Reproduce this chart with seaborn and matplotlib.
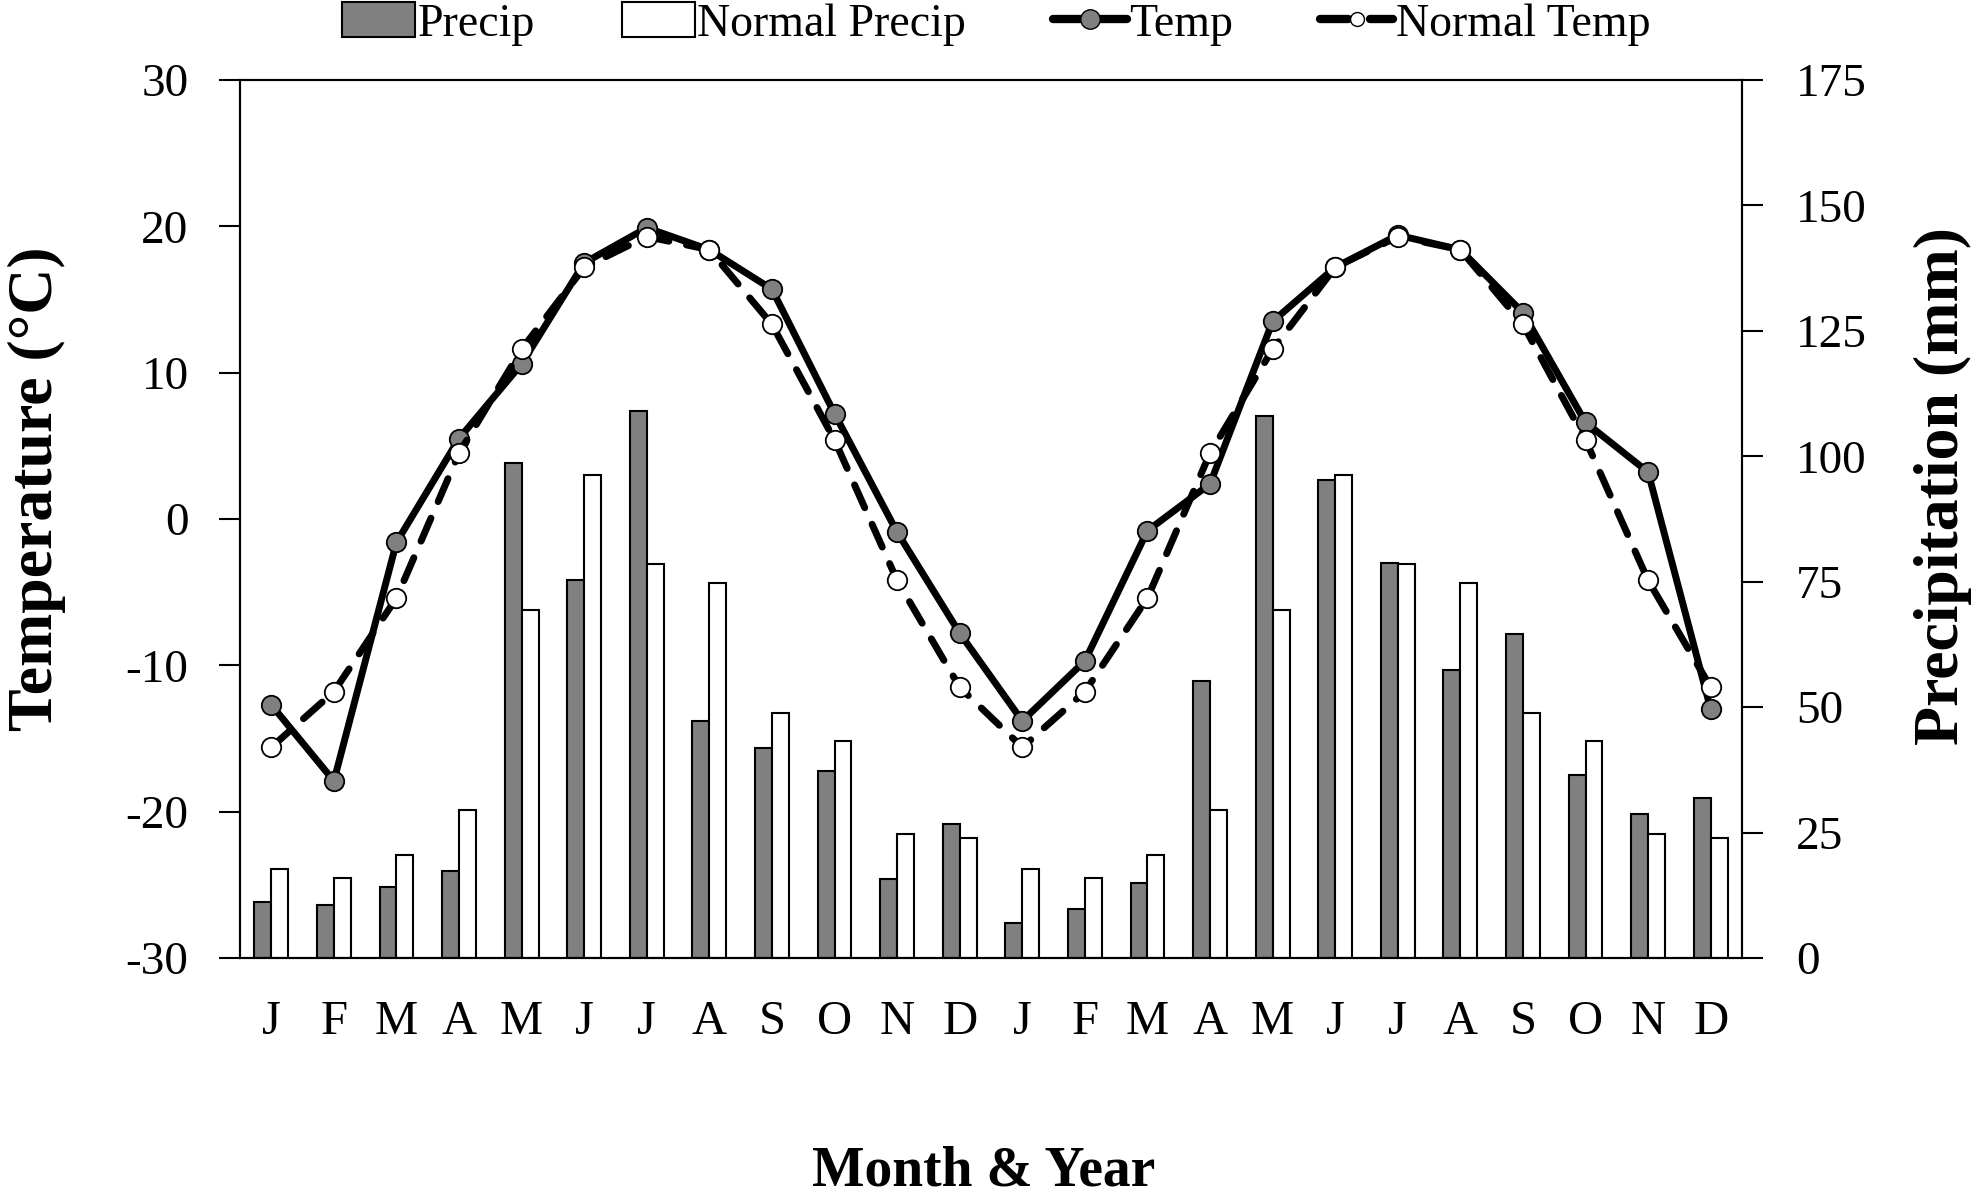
import pandas as pd
import matplotlib.pyplot as plt
import seaborn as sns
from matplotlib.patches import Patch
from matplotlib.lines import Line2D

sns.set_style('ticks')
plt.rcParams['font.family'] = ['Liberation Serif', 'DejaVu Serif']
plt.rcParams['axes.unicode_minus'] = False
for k in ['text.color', 'axes.labelcolor', 'xtick.color', 'ytick.color', 'axes.edgecolor']:
    plt.rcParams[k] = 'black'

# valores
months = ['J', 'F', 'M', 'A', 'M', 'J', 'J', 'A', 'S', 'O', 'N', 'D',
          'J', 'F', 'M', 'A', 'M', 'J', 'J', 'A', 'S', 'O', 'N', 'D']
precip = [11.2, 10.5, 14.2, 17.3, 98.6, 75.3, 109.1, 47.2, 41.9, 37.2, 15.7, 26.8,
          7.0, 9.8, 14.9, 55.2, 108.1, 95.3, 78.7, 57.5, 64.5, 36.4, 28.7, 31.8]
normal_precip = [17.8, 16.0, 20.6, 29.5, 69.4, 96.3, 78.5, 74.7, 48.9, 43.2, 24.8, 24.0,
                 17.8, 16.0, 20.6, 29.5, 69.4, 96.3, 78.5, 74.7, 48.9, 43.2, 24.8, 24.0]
temp = [-12.7, -17.9, -1.6, 5.5, 10.6, 17.5, 19.9, 18.4, 15.7, 7.2, -0.9, -7.8,
        -13.8, -9.7, -0.8, 2.4, 13.5, 17.2, 19.4, 18.4, 14.1, 6.6, 3.2, -13.0]
normal_temp = [-15.6, -11.8, -5.4, 4.5, 11.6, 17.2, 19.3, 18.4, 13.3, 5.4, -4.2, -11.5,
               -15.6, -11.8, -5.4, 4.5, 11.6, 17.2, 19.3, 18.4, 13.3, 5.4, -4.2, -11.5]
temp_ticks = [-30, -20, -10, 0, 10, 20, 30]
precip_ticks = [0, 25, 50, 75, 100, 125, 150, 175]

idx = list(range(len(months)))
barras = pd.DataFrame({
    'idx': idx * 2,
    'mm': precip + normal_precip,
    'serie': ['Precip'] * len(idx) + ['Normal Precip'] * len(idx),
})

fig = plt.figure(figsize=(19.79, 12), dpi=100)
ax = fig.add_axes([240 / 1979, 1 - 958 / 1200, (1742 - 240) / 1979, (958 - 80) / 1200])

sns.barplot(data=barras, x='idx', y='mm', hue='serie', order=idx,
            hue_order=['Precip', 'Normal Precip'],
            palette={'Precip': '#808080', 'Normal Precip': 'white'},
            edgecolor='black', linewidth=1.5, width=0.54, errorbar=None,
            legend=False, ax=ax)
ax.set_ylim(0, 175)
ax.set_yticks(precip_ticks)
ax.set_xticks(idx)
ax.set_xticklabels(months)
ax.set_xlabel('')
ax.set_ylabel('')

tw = ax.twinx()
sns.lineplot(x=idx, y=temp, ax=tw, color='black', linewidth=5, marker='o',
             markersize=14, markerfacecolor='#808080', markeredgecolor='black',
             markeredgewidth=1.3, solid_capstyle='round', solid_joinstyle='round',
             zorder=3)
sns.lineplot(x=idx, y=normal_temp, ax=tw, color='black', linewidth=5,
             linestyle=(0, (3.6, 2.6)), marker='o', markersize=14,
             markerfacecolor='white', markeredgecolor='black', markeredgewidth=1.3,
             dash_capstyle='round', zorder=4)
tw.set_xlim(-0.5, len(idx) - 0.5)
tw.set_ylim(-30, 30)
tw.set_yticks(temp_ticks)
tw.set_ylabel('')

# precipitacao na direita, temperatura na esquerda
ax.yaxis.tick_right()
tw.yaxis.tick_left()
ax.tick_params(axis='y', direction='out', length=15, width=1.5, labelsize=34, pad=24,
               left=False, right=True, labelleft=False, labelright=True)
ax.tick_params(axis='x', length=0, labelsize=35, pad=30)
tw.tick_params(axis='y', direction='out', length=15, width=1.5, labelsize=34, pad=22,
               left=True, right=False, labelleft=True, labelright=False)

for a in (ax, tw):
    for s in a.spines.values():
        s.set_visible(True)
        s.set_color('black')
        s.set_linewidth(1.5)

fig.text(37 / 1979, 1 - 489 / 1200, 'Temperature (°C)', rotation=90, ha='center',
         va='center', fontsize=46, fontweight='bold')
fig.text(1943 / 1979, 1 - 486 / 1200, 'Precipitation (mm)', rotation=90, ha='center',
         va='center', fontsize=46, fontweight='bold')
fig.text(984 / 1979, 1 - 1172 / 1200, 'Month & Year', ha='center', va='center',
         fontsize=40, fontweight='bold')

handles = [
    Patch(facecolor='#808080', edgecolor='black', linewidth=1.5),
    Patch(facecolor='white', edgecolor='black', linewidth=1.5),
    Line2D([], [], color='black', linewidth=6, marker='o', markersize=14,
           markerfacecolor='#808080', markeredgecolor='black', solid_capstyle='round'),
    Line2D([], [], color='black', linewidth=6, linestyle=(0, (3.4, 2.6)), marker='o',
           markersize=10, markerfacecolor='white', markeredgecolor='black',
           dash_capstyle='round'),
]
fig.legend(handles, ['Precip', 'Normal Precip', 'Temp', 'Normal Temp'],
           loc='center', bbox_to_anchor=(996 / 1979, 1 - 24 / 1200), ncol=4,
           frameon=False, fontsize=33, handlelength=1.6, handleheight=0.8,
           handletextpad=0.05, columnspacing=1.9, borderaxespad=0)

fig.savefig('out.png', dpi=100)
